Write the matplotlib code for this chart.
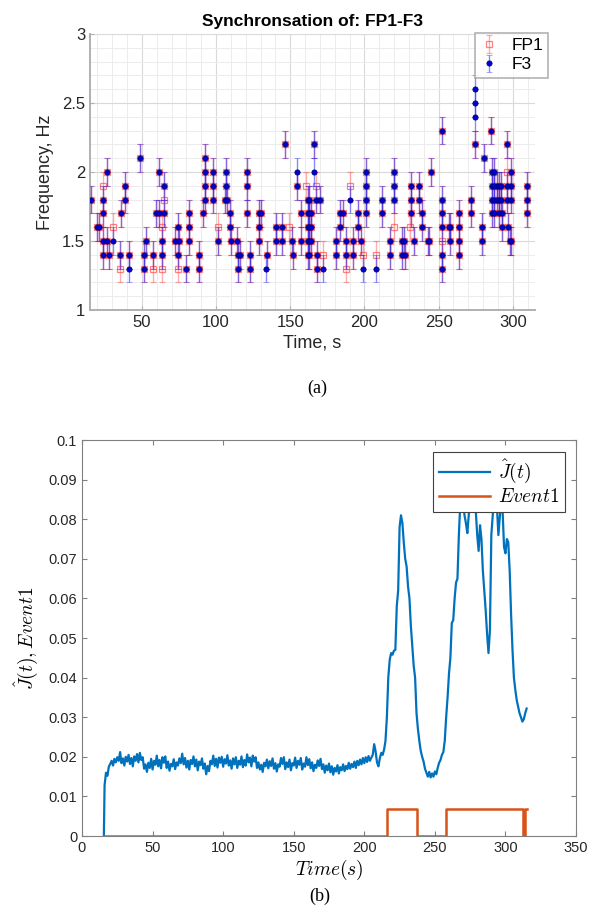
import numpy as np
import matplotlib
matplotlib.use('Agg')
import matplotlib.pyplot as plt
from matplotlib.ticker import MultipleLocator, FuncFormatter

# ---- panel (a): detected frequencies, shared by both channels ----
shared_t = [15.5, 20, 21, 23.5, 23.5, 23.5, 23.5, 26.5, 26.5, 27.5,
            36, 35.5, 38.8, 38.8, 41, 48.4, 51.3, 51.3, 52.4, 57.4,
            59.5, 61.2, 61.2, 64.8, 64.8, 63.5, 63.5, 72.4, 74, 74.5,
            75, 79.5, 81.5, 81.5, 81.5, 88.4, 88.4, 91, 92.2, 92.2,
            92.2, 92.2, 98.2, 98.2, 98.2, 101.6, 106.7, 106.7, 106, 107.5,
            109.4, 109.4, 110, 114, 114.5, 114.5, 116, 120.9, 120.9, 120.5,
            122.5, 122.5, 129.2, 129.2, 129.2, 130, 134, 140.4, 140.4, 144.5,
            144.5, 146.4, 151.6, 151, 154.3, 157.2, 157, 161.7, 161.7, 161.7,
            161.7, 161.7, 162.8, 162.8, 162.8, 162.8, 162.8, 164, 164, 164,
            166.2, 167.3, 170.1, 167.7, 167.7, 180.8, 180.8, 183.5, 183.5, 185.5,
            187.5, 187.5, 192.6, 192.6, 195.3, 195.3, 197.5, 200.9, 200.9, 200.9,
            200.9, 211.5, 211.5, 217.3, 217.3, 219.6, 219.6, 219.6, 225.6, 225.6,
            226.5, 227.5, 231.2, 231.2, 231.2, 233.7, 236.8, 236.8, 239.1, 239.1,
            242.5, 243.5, 244.7, 252.1, 252.1, 252.1, 252.1, 252.5, 252.5, 257.7,
            257.7, 257, 264, 264, 264, 264, 271.6, 271.6, 274.5, 279.5,
            279.5, 280.6, 285, 286, 286, 286, 286, 287.5, 287.5, 287.5,
            287.5, 289.5, 289.5, 291, 291, 291, 292, 292, 293, 293,
            296.3, 296, 296, 297, 298, 298.5, 298.5, 298.5, 299, 309.7,
            309.7, 309.7]
shared_f = [1.8, 1.6, 1.6, 1.8, 1.7, 1.5, 1.4, 2.0, 1.5, 1.4,
            1.7, 1.4, 1.9, 1.8, 1.4, 2.1, 1.4, 1.3, 1.5, 1.4,
            1.7, 2.0, 1.7, 1.9, 1.7, 1.5, 1.4, 1.5, 1.4, 1.6,
            1.5, 1.3, 1.7, 1.6, 1.5, 1.4, 1.3, 1.7, 2.1, 2.0,
            1.9, 1.8, 2.0, 1.9, 1.8, 1.5, 2.0, 1.9, 1.8, 1.8,
            1.7, 1.6, 1.5, 1.5, 1.4, 1.3, 1.4, 2.0, 1.9, 1.7,
            1.4, 1.3, 1.7, 1.6, 1.5, 1.7, 1.4, 1.6, 1.5, 1.6,
            1.5, 2.2, 1.4, 1.5, 1.9, 1.7, 1.5, 1.8, 1.7, 1.6,
            1.5, 1.4, 1.8, 1.7, 1.6, 1.5, 1.4, 1.7, 1.6, 1.5,
            2.2, 1.8, 1.8, 1.4, 1.3, 1.5, 1.4, 1.7, 1.6, 1.7,
            1.5, 1.4, 1.5, 1.4, 1.7, 1.6, 1.5, 2.0, 1.9, 1.8,
            1.7, 1.8, 1.7, 1.5, 1.4, 2.0, 1.9, 1.8, 1.5, 1.4,
            1.5, 1.4, 1.9, 1.8, 1.7, 1.5, 1.9, 1.8, 1.7, 1.6,
            1.5, 1.5, 2.0, 2.3, 1.8, 1.7, 1.6, 1.4, 1.3, 1.6,
            1.5, 1.6, 1.7, 1.6, 1.5, 1.4, 1.8, 1.7, 2.2, 1.6,
            1.5, 2.1, 2.3, 2.0, 1.9, 1.8, 1.7, 2.0, 1.9, 1.8,
            1.7, 1.9, 1.8, 1.9, 1.8, 1.7, 1.9, 1.8, 1.7, 1.6,
            2.2, 1.9, 1.8, 1.6, 1.5, 2.0, 1.9, 1.8, 1.5, 1.9,
            1.8, 1.7]
fp1_only_t = [23.5, 30.5, 35.5, 57.4, 63.5, 63.5, 65, 74, 101.6, 149,
              160.6, 167, 172.3, 187.5, 190.4, 199, 207.6, 219.6, 230.5, 252.1,
              296]
fp1_only_f = [1.9, 1.6, 1.3, 1.3, 1.6, 1.3, 1.8, 1.3, 1.6, 1.6,
              1.9, 1.9, 1.4, 1.3, 1.9, 1.4, 1.4, 1.6, 1.6, 1.5,
              2.0]
f3_only_t = [30.5, 41, 133.8, 154.3, 166.2, 172.3, 190.4, 199.3, 207.6, 274.5,
             274.5, 274.5]
f3_only_f = [1.5, 1.3, 1.3, 2.0, 2.0, 1.3, 1.8, 1.3, 1.3, 2.6,
             2.5, 2.4]
freq_err = 0.1

# ---- panel (b): J-hat(t) sampled once per second, and Event1 ----
j_start_t = [15.5]
j_start_v = [0.0]
j_t = np.arange(16, 316)
j_v = [0.0128, 0.0160, 0.0152, 0.0175, 0.0182, 0.0190, 0.0178, 0.0195, 0.0186, 0.0199,
       0.0190, 0.0212, 0.0184, 0.0196, 0.0178, 0.0200, 0.0188, 0.0205, 0.0182, 0.0197,
       0.0176, 0.0201, 0.0190, 0.0207, 0.0186, 0.0210, 0.0192, 0.0199, 0.0170, 0.0181,
       0.0162, 0.0185, 0.0172, 0.0195, 0.0168, 0.0190, 0.0180, 0.0203, 0.0176, 0.0192,
       0.0171, 0.0199, 0.0185, 0.0201, 0.0172, 0.0188, 0.0165, 0.0182, 0.0176, 0.0194,
       0.0169, 0.0186, 0.0178, 0.0196, 0.0184, 0.0208, 0.0181, 0.0197, 0.0173, 0.0190,
       0.0168, 0.0192, 0.0182, 0.0201, 0.0176, 0.0193, 0.0166, 0.0188, 0.0179, 0.0196,
       0.0170, 0.0183, 0.0156, 0.0177, 0.0164, 0.0190, 0.0181, 0.0203, 0.0177, 0.0195,
       0.0173, 0.0198, 0.0185, 0.0200, 0.0175, 0.0194, 0.0183, 0.0204, 0.0178, 0.0191,
       0.0170, 0.0196, 0.0181, 0.0199, 0.0172, 0.0190, 0.0180, 0.0201, 0.0174, 0.0192,
       0.0178, 0.0206, 0.0186, 0.0198, 0.0176, 0.0203, 0.0188, 0.0199, 0.0172, 0.0186,
       0.0168, 0.0180, 0.0162, 0.0185, 0.0176, 0.0193, 0.0171, 0.0189, 0.0177, 0.0196,
       0.0170, 0.0184, 0.0163, 0.0181, 0.0175, 0.0197, 0.0182, 0.0199, 0.0169, 0.0186,
       0.0174, 0.0193, 0.0166, 0.0184, 0.0178, 0.0198, 0.0172, 0.0190, 0.0180, 0.0197,
       0.0168, 0.0183, 0.0175, 0.0199, 0.0179, 0.0194, 0.0171, 0.0186, 0.0164, 0.0180,
       0.0172, 0.0191, 0.0177, 0.0195, 0.0169, 0.0181, 0.0160, 0.0178, 0.0166, 0.0183,
       0.0161, 0.0176, 0.0155, 0.0172, 0.0163, 0.0179, 0.0158, 0.0174, 0.0166, 0.0181,
       0.0164, 0.0177, 0.0169, 0.0185, 0.0170, 0.0182, 0.0174, 0.0188, 0.0172, 0.0190,
       0.0179, 0.0193, 0.0181, 0.0197, 0.0184, 0.0199, 0.0187, 0.0202, 0.0190, 0.0198,
       0.0205, 0.0232, 0.0214, 0.0186, 0.0176, 0.0196, 0.0210, 0.0205, 0.0218, 0.0240,
       0.0300, 0.0400, 0.0445, 0.0462, 0.0458, 0.0468, 0.0470, 0.0580, 0.0620, 0.0780,
       0.0810, 0.0790, 0.0740, 0.0700, 0.0680, 0.0630, 0.0600, 0.0530, 0.0480, 0.0430,
       0.0400, 0.0310, 0.0270, 0.0240, 0.0215, 0.0200, 0.0188, 0.0170, 0.0160, 0.0150,
       0.0162, 0.0148, 0.0158, 0.0150, 0.0163, 0.0156, 0.0172, 0.0185, 0.0192, 0.0205,
       0.0212, 0.0240, 0.0300, 0.0350, 0.0410, 0.0450, 0.0538, 0.0545, 0.0600, 0.0640,
       0.0650, 0.0760, 0.0840, 0.0880, 0.0850, 0.0810, 0.0790, 0.0765, 0.0810, 0.0870,
       0.0900, 0.0880, 0.0850, 0.0820, 0.0760, 0.0720, 0.0785, 0.0750, 0.0670, 0.0620,
       0.0570, 0.0510, 0.0462, 0.0520, 0.0760, 0.0810, 0.0860, 0.0880, 0.0830, 0.0760,
       0.0806, 0.0850, 0.0820, 0.0730, 0.0714, 0.0750, 0.0742, 0.0670, 0.0560, 0.0470,
       0.0400, 0.0369, 0.0343, 0.0327, 0.0310, 0.0300, 0.0289, 0.0295, 0.0310, 0.0322]
event_t = [15.3, 216, 216, 237.3, 237.3, 257.8, 257.8, 312.4, 312.4, 313.9, 313.9, 315.6]
event_v = [0, 0, 0.0068, 0.0068, 0, 0, 0.0068, 0.0068, 0, 0, 0.0068, 0.0068]

plt.rcParams['font.family'] = ['Liberation Sans', 'DejaVu Sans']
plt.rcParams['mathtext.fontset'] = 'cm'

fig = plt.figure(figsize=(5.95, 9.16), dpi=100)

# ------------------ (a) ------------------
ax1 = fig.add_axes([0.1513, 0.6616, 0.748, 0.3013])
fp1_t = shared_t + fp1_only_t
fp1_f = shared_f + fp1_only_f
f3_t = shared_t + f3_only_t
f3_f = shared_f + f3_only_f

ax1.errorbar(fp1_t, fp1_f, yerr=freq_err, fmt='s', ms=4.8, mfc='none',
             mec=(1, 0.25, 0.25, 0.65), mew=0.9, ecolor=(1, 0.2, 0.2, 0.4),
             elinewidth=1.0, capsize=2.5, capthick=1.0, label='FP1', zorder=3)
ax1.errorbar(f3_t, f3_f, yerr=freq_err, fmt='o', ms=3.8, mfc='#0000d0',
             mec='#000060', mew=0.5, ecolor=(0.15, 0.15, 1, 0.55),
             elinewidth=1.0, capsize=2.5, capthick=1.0, label='F3', zorder=4)

ax1.set_xlim(15, 315)
ax1.set_ylim(1, 3)
ax1.xaxis.set_major_locator(MultipleLocator(50))
ax1.xaxis.set_minor_locator(MultipleLocator(10))
ax1.yaxis.set_major_locator(MultipleLocator(0.5))
ax1.yaxis.set_minor_locator(MultipleLocator(0.1))
ax1.yaxis.set_major_formatter(FuncFormatter(lambda v, p: '%g' % v))
ax1.grid(which='major', color='#d9d9d9', lw=0.8, zorder=0)
ax1.grid(which='minor', color='#ececec', lw=0.7, zorder=0)
ax1.set_axisbelow(True)
for s in ['top', 'right']:
    ax1.spines[s].set_visible(False)
for s in ['left', 'bottom']:
    ax1.spines[s].set_color('#b0b0b0')
    ax1.spines[s].set_linewidth(1.4)
ax1.tick_params(which='major', direction='in', length=3, color='#b0b0b0',
                labelsize=12, labelcolor='#262626')
ax1.tick_params(which='minor', length=0)
ax1.set_title('Synchronsation of: FP1-F3', fontsize=12.5, fontweight='bold', pad=6)
ax1.set_xlabel('Time, s', fontsize=13, color='#262626', labelpad=3)
ax1.set_ylabel('Frequency, Hz', fontsize=13, color='#262626', labelpad=6)
leg1 = ax1.legend(loc='upper right', bbox_to_anchor=(1.03, 1.005), fontsize=12.5,
                  frameon=True, fancybox=False, edgecolor='#a0a0a0',
                  borderaxespad=0, handlelength=1.0, handletextpad=0.8,
                  borderpad=0.3, labelspacing=0.25)
leg1.get_frame().set_linewidth(1.2)
leg1.set_zorder(10)

fig.text(0.533, 0.576, '(a)', ha='center', va='center', fontsize=13,
         family=['Liberation Serif', 'DejaVu Serif'])

# ------------------ (b) ------------------
ax2 = fig.add_axes([0.1378, 0.0873, 0.8303, 0.4323])
ax2.plot(j_start_t + list(j_t), j_start_v + j_v, color='#0072BD', lw=1.6,
         label=r'$\hat{J}(t)$')
ax2.plot(event_t, event_v, color='#D95319', lw=1.8, label=r'$Event\mathit{1}$')
ax2.set_xlim(0, 350)
ax2.set_ylim(0, 0.1)
ax2.xaxis.set_major_locator(MultipleLocator(50))
ax2.yaxis.set_major_locator(MultipleLocator(0.01))
ax2.yaxis.set_major_formatter(FuncFormatter(lambda v, p: '%g' % round(v, 3)))
for s in ax2.spines.values():
    s.set_color('#808080')
    s.set_linewidth(0.8)
ax2.tick_params(direction='in', length=3.5, color='#808080', top=True,
                right=True, labelsize=10.5, labelcolor='#262626')
ax2.set_xlabel(r'$Time(s)$', fontsize=14, labelpad=2)
ax2.set_ylabel(r'$\hat{J}(t), Event\mathit{1}$', fontsize=14, labelpad=6)
leg2 = ax2.legend(loc='upper right', bbox_to_anchor=(0.978, 0.97), fontsize=14,
                  frameon=True, fancybox=False, edgecolor='#404040',
                  framealpha=1, borderaxespad=0, handlelength=2.6,
                  handletextpad=0.4, borderpad=0.3, labelspacing=0.15)
leg2.get_frame().set_linewidth(0.8)

fig.text(0.538, 0.012, '(b)', ha='center', va='bottom', fontsize=13,
         family=['Liberation Serif', 'DejaVu Serif'])

fig.savefig('out.png', dpi=100)
